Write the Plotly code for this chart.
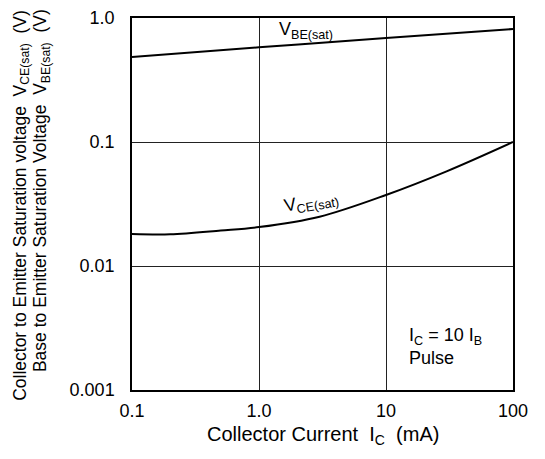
import plotly.graph_objects as go

ic_vbe = [0.1, 1.0, 10, 100]
vbe = [0.485, 0.58, 0.69, 0.815]

ic_vce = [0.1, 0.2, 0.5, 1.0, 3.0, 10, 30, 100]
vce = [0.0181, 0.0180, 0.0193, 0.0206, 0.0250, 0.0374, 0.0580, 0.100]

x_ticks = [0.1, 1, 10, 100]
x_labels = ["0.1", "1.0", "10", "100"]
y_ticks = [0.001, 0.01, 0.1, 1]
y_labels = ["0.001", "0.01", "0.1", "1.0"]

FONT = "Liberation Sans, Arial, sans-serif"
SP = "\u00a0"

fig = go.Figure()
fig.add_trace(go.Scatter(x=ic_vbe, y=vbe, mode="lines", line=dict(color="black", width=2, shape="spline"), showlegend=False))
fig.add_trace(go.Scatter(x=ic_vce, y=vce, mode="lines", line=dict(color="black", width=2, shape="spline", smoothing=1.0), showlegend=False))

fig.update_layout(
    width=545, height=459,
    margin=dict(l=132, r=32, t=18, b=69, autoexpand=False),
    paper_bgcolor="white", plot_bgcolor="white",
    font=dict(family=FONT, color="black"),
    xaxis=dict(type="log", range=[-1, 2], tickvals=x_ticks, ticktext=x_labels, automargin=False,
               showgrid=True, gridcolor="#222", gridwidth=1, showline=True, linecolor="black",
               linewidth=1.5, mirror=True, ticks="", tickfont=dict(size=18), zeroline=False,
               ticklabelstandoff=4),
    yaxis=dict(type="log", range=[-3, 0], tickvals=y_ticks, ticktext=y_labels, automargin=False,
               showgrid=True, gridcolor="#222", gridwidth=1, showline=True, linecolor="black",
               linewidth=1.5, mirror=True, ticks="", tickfont=dict(size=18), zeroline=False,
               ticklabelstandoff=12),
)

annos = [
    dict(text=f"Collector Current{SP}{SP}I<sub>C</sub>{SP}{SP}(mA)", x=0.5, y=-0.121, xref="paper", yref="paper",
         showarrow=False, font=dict(size=20), xanchor="center", yanchor="middle"),
    dict(text=f"Collector to Emitter Saturation voltage{SP}{SP}V<sub>CE(sat)</sub>{SP}{SP}(V)", x=-0.292, y=0.497,
         xref="paper", yref="paper", showarrow=False, textangle=-90, font=dict(size=17.5),
         xanchor="center", yanchor="middle"),
    dict(text=f"Base to Emitter Saturation Voltage{SP}{SP}V<sub>BE(sat)</sub>{SP}{SP}(V)", x=-0.236, y=0.535,
         xref="paper", yref="paper", showarrow=False, textangle=-90, font=dict(size=17.5),
         xanchor="center", yanchor="middle"),
    dict(text="V<sub>BE(sat)</sub>", x=0.457, y=0.966, xref="paper", yref="paper", showarrow=False,
         font=dict(size=18), xanchor="center", yanchor="middle"),
    dict(text=f"V<sub>CE(sat)</sub>", x=0.472, y=0.503, xref="paper", yref="paper", showarrow=False,
         font=dict(size=18), xanchor="center", yanchor="middle", textangle=-10),
    dict(text="I<sub>C</sub> = 10 I<sub>B</sub><br>Pulse", x=0.722, y=0.116, xref="paper", yref="paper",
         showarrow=False, font=dict(size=18), xanchor="left", yanchor="middle", align="left"),
]
fig.update_layout(annotations=annos)

fig.write_html("out.html", config={"displayModeBar": False},
               post_script="document.body.style.margin='0';document.body.style.overflow='hidden';")
